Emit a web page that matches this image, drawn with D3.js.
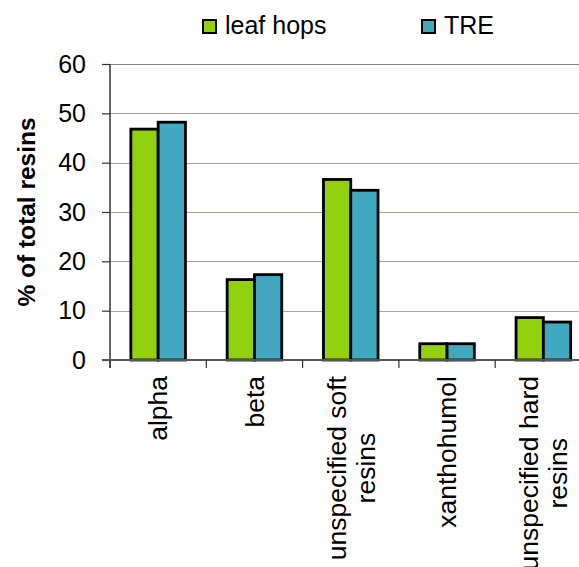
<!DOCTYPE html>
<html>
<head>
<meta charset="utf-8">
<script src="https://cdn.jsdelivr.net/npm/d3@7"></script>
<style>
html,body{margin:0;padding:0;background:#fff;}
svg{display:block;font-family:"Liberation Sans",Arial,sans-serif;}
</style>
</head>
<body>
<svg id="chart" width="579" height="567"></svg>
<script>
const categories = ["alpha", "beta", "unspecified soft\nresins", "xanthohumol", "unspecified hard\nresins"];
const seriesNames = ["leaf hops", "TRE"];
const leafHops = [46.8, 16.3, 36.6, 3.3, 8.6];
const tre = [48.2, 17.3, 34.4, 3.3, 7.7];
const yTicks = [0, 10, 20, 30, 40, 50, 60];
const colors = ["#92d10e", "#41a8c0"];

(function () {
const svg = d3.select("#chart");
const pLeft = 110, pTop = 64, pBottom = 360, pRight = 591.5;

const x0 = d3.scaleBand().domain(categories).range([pLeft, pRight]).padding(0);
const x1 = d3.scaleBand().domain(seriesNames).range([0, x0.bandwidth()]).paddingInner(0).paddingOuter(0.764);
const y = d3.scaleLinear().domain([0, 60]).range([pBottom, pTop]);

// gridlines
svg.append("g").selectAll("line").data(yTicks.filter(t => t > 0)).join("line")
  .attr("x1", pLeft).attr("x2", 579)
  .attr("y1", d => Math.round(y(d)) + 0.5).attr("y2", d => Math.round(y(d)) + 0.5)
  .attr("stroke", d => d === 60 ? "#868686" : "#a8a890").attr("stroke-width", 1.2);

// bars
const seriesData = [leafHops, tre];
const groups = svg.append("g").selectAll("g").data(categories).join("g")
  .attr("transform", c => `translate(${x0(c)},0)`);
groups.selectAll("rect").data((c, i) => seriesNames.map((s, j) => ({s, v: seriesData[j][i], j}))).join("rect")
  .attr("x", d => x1(d.s))
  .attr("width", x1.bandwidth())
  .attr("y", d => y(d.v))
  .attr("height", d => y(0) - y(d.v))
  .attr("fill", d => colors[d.j])
  .attr("stroke", "#000").attr("stroke-width", 2.8);

// y axis
const yAxis = d3.axisLeft(y).tickValues(yTicks).tickSize(8).tickPadding(16).tickFormat(d3.format("d"));
const ya = svg.append("g").attr("transform", `translate(${pLeft},0)`).call(yAxis);
ya.select(".domain").remove();
ya.selectAll(".tick line").attr("stroke", "#333").attr("stroke-width", 1.2);
ya.selectAll(".tick text").attr("font-size", 25).attr("fill", "#000")
  .attr("font-family", "Liberation Sans, Arial, sans-serif");
svg.append("line").attr("x1", pLeft).attr("x2", pLeft).attr("y1", pTop).attr("y2", pBottom + 8)
  .attr("stroke", "#333").attr("stroke-width", 1.5);

// x axis baseline
svg.append("line").attr("x1", pLeft - 8).attr("x2", 579).attr("y1", pBottom).attr("y2", pBottom)
  .attr("stroke", "#555").attr("stroke-width", 2);
// category boundary ticks
const bounds = categories.map(c => x0(c)).concat([pRight]);
svg.append("g").selectAll("line").data(bounds).join("line")
  .attr("x1", d => d).attr("x2", d => d).attr("y1", pBottom).attr("y2", pBottom + 8)
  .attr("stroke", "#333").attr("stroke-width", 1.2);

// x labels
const labelTop = 376;
const lineH = 29;
categories.forEach(c => {
  const lines = c.split("\n");
  const cx = x0(c) + x0.bandwidth() / 2;
  const g = svg.append("g");
  const texts = lines.map((ln) => g.append("text").text(ln)
    .attr("font-size", 26.5).attr("fill", "#000").attr("text-anchor", "middle"));
  const maxLen = d3.max(texts, t => t.node().getComputedTextLength());
  texts.forEach((t, k) => {
    const off = (k - (lines.length - 1) / 2) * lineH;
    const px = cx + off;
    const py = labelTop + maxLen / 2;
    t.attr("transform", `translate(${px},${py}) rotate(-90)`).attr("dy", "0.35em");
  });
});

// y title
svg.append("text").text("% of total resins")
  .attr("transform", "translate(26,212) rotate(-90)")
  .attr("text-anchor", "middle").attr("dy", "0.35em")
  .attr("font-size", 24.5).attr("font-weight", "bold").attr("fill", "#000");

// legend
const legendX = [203, 422];
seriesNames.forEach((s, j) => {
  svg.append("rect").attr("x", legendX[j]).attr("y", 20).attr("width", 13).attr("height", 13)
    .attr("fill", colors[j]).attr("stroke", "#000").attr("stroke-width", 2);
  svg.append("text").text(s).attr("x", legendX[j] + 22).attr("y", 34)
    .attr("font-size", 25).attr("fill", "#000");
});
})();
</script>
</body>
</html>
